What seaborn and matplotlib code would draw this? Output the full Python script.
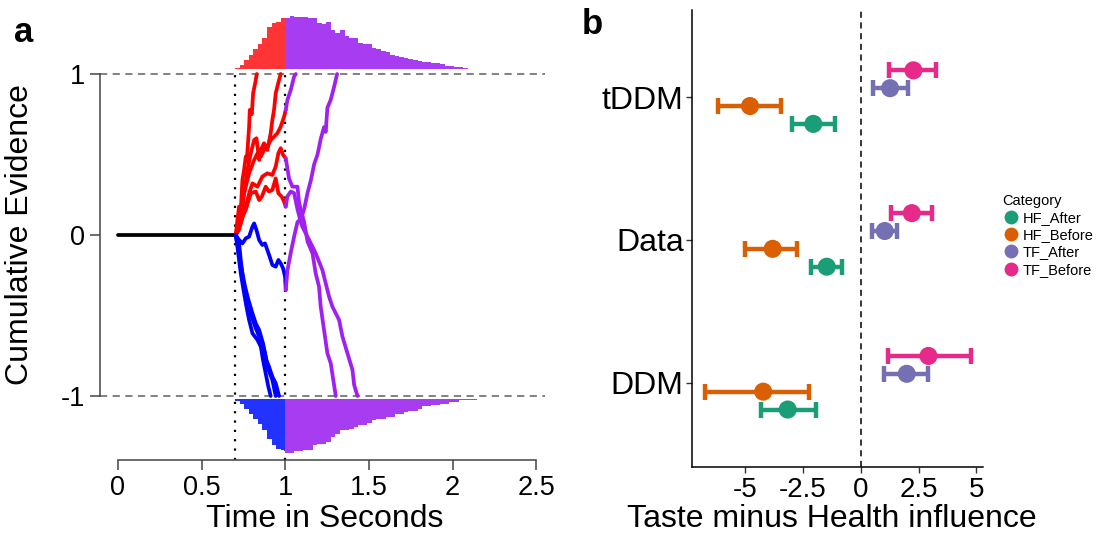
import numpy as np
import pandas as pd
import matplotlib
matplotlib.use("Agg")
import matplotlib.pyplot as plt
from matplotlib.lines import Line2D
import seaborn as sns

sns.set_theme(style="white")
plt.rcParams['font.family'] = ['Liberation Sans', 'DejaVu Sans']
plt.rcParams['text.color'] = 'black'
plt.rcParams['axes.labelcolor'] = 'black'
plt.rcParams['xtick.color'] = 'black'
plt.rcParams['ytick.color'] = 'black'

# ---------------- Panel a data ----------------
ndt = 0.7          # non-decision time
switch_t = 1.0     # attribute switch time

black_t = [0.0, 0.7]
black_y = [0.0, 0.0]

r1_t = [0.704, 0.714, 0.724, 0.734, 0.744, 0.754, 0.764, 0.770, 0.784, 0.788, 0.800, 0.808, 0.820, 0.830]
r1_y = [0.0, 0.093, 0.176, 0.15, 0.342, 0.404, 0.487, 0.46, 0.673, 0.777, 0.75, 0.88, 0.942, 1.0]
r2_t = [0.704, 0.724, 0.744, 0.754, 0.774, 0.794, 0.814, 0.828, 0.844, 0.854, 0.873, 0.893, 0.913, 0.923, 0.933, 0.943, 0.953, 0.963, 0.973]
r2_y = [0.0, 0.052, 0.156, 0.259, 0.404, 0.508, 0.59, 0.601, 0.466, 0.528, 0.57, 0.528, 0.632, 0.715, 0.777, 0.88, 0.922, 0.963, 1.0]
r3_t = [0.704, 0.724, 0.744, 0.764, 0.784, 0.814, 0.834, 0.854, 0.873, 0.893, 0.913, 0.933, 0.953, 0.973, 0.993, 1.003]
r3_y = [0.0, 0.093, 0.217, 0.3, 0.383, 0.466, 0.508, 0.487, 0.528, 0.549, 0.59, 0.611, 0.632, 0.673, 0.735, 0.777]
r4_t = [0.704, 0.734, 0.764, 0.784, 0.804, 0.834, 0.863, 0.893, 0.923, 0.943, 0.959, 0.973, 0.987, 1.003]
r4_y = [0.0, 0.073, 0.176, 0.259, 0.321, 0.30, 0.363, 0.383, 0.373, 0.425, 0.508, 0.539, 0.497, 0.476]
r5_t = [0.704, 0.724, 0.744, 0.764, 0.794, 0.824, 0.844, 0.860, 0.883, 0.903, 0.923, 0.943, 0.959, 0.979, 0.993, 1.003]
r5_y = [0.0, 0.031, 0.114, 0.156, 0.259, 0.27, 0.217, 0.238, 0.3, 0.27, 0.28, 0.352, 0.259, 0.238, 0.207, 0.176]

b1_t = [0.704, 0.724, 0.744, 0.764, 0.784, 0.804, 0.814, 0.828, 0.844, 0.863, 0.879, 0.893, 0.907, 0.923, 0.943, 0.959, 0.973, 0.987, 0.999, 1.003]
b1_y = [0.0, -0.031, -0.052, -0.021, -0.01, 0.052, 0.072, 0.031, -0.031, -0.062, -0.052, -0.093, -0.135, -0.186, -0.197, -0.155, -0.176, -0.207, -0.259, -0.342]
b2_t = [0.704, 0.714, 0.724, 0.734, 0.754, 0.768, 0.784, 0.804, 0.834, 0.854, 0.867, 0.883, 0.899, 0.913]
b2_y = [0.0, -0.072, -0.155, -0.238, -0.362, -0.445, -0.528, -0.611, -0.652, -0.694, -0.776, -0.859, -0.942, -1.0]
b3_t = [0.704, 0.724, 0.734, 0.748, 0.764, 0.784, 0.800, 0.820, 0.844, 0.863, 0.879, 0.893, 0.923, 0.943]
b3_y = [0.0, -0.052, -0.155, -0.279, -0.383, -0.445, -0.507, -0.569, -0.631, -0.673, -0.735, -0.818, -0.90, -1.0]
b4_t = [0.704, 0.720, 0.740, 0.760, 0.780, 0.804, 0.824, 0.844, 0.867, 0.887, 0.903, 0.923, 0.943, 0.963]
b4_y = [0.0, -0.093, -0.217, -0.321, -0.404, -0.487, -0.549, -0.59, -0.673, -0.776, -0.818, -0.88, -0.921, -1.0]

p3_t = [1.003, 1.013, 1.033, 1.053, 1.063]
p3_y = [0.777, 0.839, 0.901, 0.984, 1.0]
p4_t = [1.003, 1.023, 1.043, 1.073, 1.083, 1.113, 1.133, 1.163, 1.182, 1.202, 1.212, 1.232, 1.252, 1.272, 1.302]
p4_y = [0.476, 0.35, 0.30, 0.30, 0.2, 0.08, -0.04, -0.114, -0.238, -0.321, -0.445, -0.59, -0.735, -0.797, -1.0]
p5_t = [1.003, 1.013, 1.033, 1.053, 1.073, 1.093, 1.103, 1.143, 1.182, 1.222, 1.242, 1.262, 1.282, 1.322, 1.342, 1.372, 1.402, 1.412, 1.432]
p5_y = [0.176, 0.24, 0.27, 0.26, 0.16, 0.08, 0.05, -0.031, -0.114, -0.217, -0.30, -0.383, -0.445, -0.528, -0.631, -0.735, -0.838, -0.931, -1.0]
pb1_t = [1.003, 1.013, 1.033, 1.053, 1.073, 1.093, 1.113, 1.133, 1.153, 1.173, 1.193, 1.213, 1.232, 1.242, 1.252, 1.272, 1.292, 1.31]
pb1_y = [-0.342, -0.22, -0.11, -0.01, 0.08, 0.10, 0.16, 0.26, 0.34, 0.44, 0.50, 0.60, 0.67, 0.64, 0.79, 0.84, 0.92, 1.0]

# histogram counts (relative), bins of width 0.3/11 starting at 0.703
top_red = [5, 13, 28, 43, 60, 75, 95, 128, 138, 143, 153]
top_purple = [153, 161, 158, 156, 156, 155, 153, 140, 136, 143, 118, 110, 118, 100, 93, 93, 80, 76, 75, 63,
              60, 55, 53, 43, 40, 36, 33, 30, 28, 25, 23, 21, 20, 18, 16, 10, 10, 8, 6, 4]
bot_blue = [5, 13, 28, 43, 58, 73, 93, 118, 138, 148, 153]
bot_purple = [161, 161, 155, 155, 151, 153, 138, 133, 133, 128, 113, 103, 93, 93, 88, 83, 76, 76, 71, 63,
              58, 58, 53, 53, 43, 43, 38, 35, 35, 28, 20, 20, 18, 18, 13, 13, 8, 8, 3, 3, 3, 3]

# ---------------- Panel b data ----------------
models = ['DDM', 'Data', 'tDDM']
categories = ['HF_After', 'HF_Before', 'TF_After', 'TF_Before']
ddm_mean = [-3.16, -4.22, 1.99, 2.93]
ddm_lo = [-4.33, -6.74, 1.02, 1.17]
ddm_hi = [-1.93, -2.22, 2.93, 4.78]
data_mean = [-1.47, -3.81, 1.04, 2.21]
data_lo = [-2.15, -5.01, 0.50, 1.31]
data_hi = [-0.80, -2.74, 1.57, 3.10]
tddm_mean = [-2.05, -4.79, 1.27, 2.28]
tddm_lo = [-2.97, -6.19, 0.55, 1.24]
tddm_hi = [-1.11, -3.46, 2.03, 3.26]

palette = {'HF_After': '#1B9E77', 'HF_Before': '#D95F02', 'TF_After': '#7570B3', 'TF_Before': '#E7298A'}

# ---------------- figure ----------------
W, H = 1098, 533
fig = plt.figure(figsize=(W / 100, H / 100), dpi=100)
fig.patch.set_facecolor('white')

def px_axes(l, t, r, b):
    return fig.add_axes([l / W, (H - b) / H, (r - l) / W, (b - t) / H])

# ---- Panel a ----
ax = px_axes(100, 10, 545, 460)
ax.set_facecolor('white')
ax.set_xlim(-0.1075, 2.553)
ax.set_ylim(-1.3975, 1.3975)

rows = []
def add(name, col, ts, ys):
    for tt, yy in zip(ts, ys):
        rows.append((name, col, tt, yy))
add('k', 'black', black_t, black_y)
add('r1', 'red', r1_t, r1_y)
add('r2', 'red', r2_t, r2_y)
add('r3', 'red', r3_t, r3_y)
add('r4', 'red', r4_t, r4_y)
add('r5', 'red', r5_t, r5_y)
add('b1', 'blue', b1_t, b1_y)
add('b2', 'blue', b2_t, b2_y)
add('b3', 'blue', b3_t, b3_y)
add('b4', 'blue', b4_t, b4_y)
add('p3', 'purple', p3_t, p3_y)
add('p4', 'purple', p4_t, p4_y)
add('p5', 'purple', p5_t, p5_y)
add('pb1', 'purple', pb1_t, pb1_y)
traj = pd.DataFrame(rows, columns=['traj', 'col', 't', 'y'])

ax.axhline(1, color='#777777', lw=1.3, ls=(0, (4, 3)), zorder=1)
ax.axhline(-1, color='#777777', lw=1.3, ls=(0, (4, 3)), zorder=1)
for xv in (ndt, switch_t):
    ax.plot([xv, xv], [-1.4, 1.0], color='black', lw=1.6, ls=(0, (1, 3.2)), zorder=1)

sns.lineplot(data=traj, x='t', y='y', hue='col', units='traj', estimator=None, sort=False,
             palette={'black': 'black', 'red': '#FF0000', 'blue': '#0000FF', 'purple': '#A020F0'},
             lw=2.7, legend=False, ax=ax, zorder=3)

bw = 0.3 / 11
hscale = 0.00207
top_base, bot_base = 1.028, -1.02
e_red = ndt + bw * np.arange(len(top_red) + 1)
e_ptop = switch_t + bw * np.arange(len(top_purple) + 1)
e_pbot = switch_t + bw * np.arange(len(bot_purple) + 1)
ax.stairs(top_base + hscale * np.array(top_red), e_red, baseline=top_base, fill=True,
          color='#FF2A2A', alpha=0.95, lw=0, zorder=4)
ax.stairs(top_base + hscale * np.array(top_purple), e_ptop, baseline=top_base, fill=True,
          color='#A83CF0', lw=0, zorder=4)
ax.stairs(bot_base - hscale * np.array(bot_blue), e_red, baseline=bot_base, fill=True,
          color='#2233FF', lw=0, zorder=4)
ax.stairs(bot_base - hscale * np.array(bot_purple), e_pbot, baseline=bot_base, fill=True,
          color='#A83CF0', lw=0, zorder=4)

for s in ('top', 'right'):
    ax.spines[s].set_visible(False)
for s in ('left', 'bottom'):
    ax.spines[s].set_color('#444444')
    ax.spines[s].set_linewidth(1.1)
ax.spines['left'].set_bounds(-1, 1)
ax.spines['bottom'].set_bounds(0, 2.5)
ax.set_xticks([0, 0.5, 1, 1.5, 2, 2.5])
ax.set_xticklabels(['0', '0.5', '1', '1.5', '2', '2.5'])
ax.set_yticks([-1, 0, 1])
ax.set_yticklabels(['-1', '0', '1'])
ax.tick_params(axis='both', which='both', direction='out', length=7.5, width=1.1, color='#444444',
               labelsize=19.5, pad=3, labelcolor='black', bottom=True, left=True)
ax.set_xlabel('Time in Seconds', fontsize=23, color='black')
ax.set_ylabel('Cumulative Evidence', fontsize=23, color='black')
ax.xaxis.set_label_coords(0.506, -0.098)
ax.yaxis.set_label_coords(-0.146, 0.5)
ax.grid(False)

# ---- Panel b ----
bx = px_axes(692, 10, 983, 467)
bx.set_facecolor('white')
offsets = {'HF_After': -0.1875, 'HF_Before': -0.0625, 'TF_After': 0.0625, 'TF_Before': 0.1875}
brows = []
for mi, (m, mean, lo, hi) in enumerate([('DDM', ddm_mean, ddm_lo, ddm_hi),
                                       ('Data', data_mean, data_lo, data_hi),
                                       ('tDDM', tddm_mean, tddm_lo, tddm_hi)]):
    for ci, c in enumerate(categories):
        brows.append((m, c, mi + offsets[c], mean[ci], lo[ci], hi[ci]))
dfb = pd.DataFrame(brows, columns=['model', 'Category', 'ypos', 'value', 'lo', 'hi'])

bx.axvline(0, color='black', lw=1.1, ls=(0, (4, 3)), zorder=1)
for c in categories:
    d = dfb[dfb['Category'] == c]
    bx.errorbar(d['value'], d['ypos'], xerr=[d['value'] - d['lo'], d['hi'] - d['value']],
                fmt='none', ecolor=palette[c], elinewidth=3.2, capsize=5.5, capthick=3.2, zorder=2)
sns.scatterplot(data=dfb, x='value', y='ypos', hue='Category', palette=palette, s=170,
                edgecolor='none', legend=False, ax=bx, zorder=3)

bx.set_xlim(-7.30, 5.29)
bx.set_ylim(-0.59, 2.61)
bx.set_yticks([0, 1, 2])
bx.set_yticklabels(models)
bx.set_xticks([-5, -2.5, 0, 2.5, 5])
bx.set_xticklabels(['-5', '-2.5', '0', '2.5', '5'])
for s in ('top', 'right'):
    bx.spines[s].set_visible(False)
for s in ('left', 'bottom'):
    bx.spines[s].set_color('black')
    bx.spines[s].set_linewidth(1.1)
bx.tick_params(axis='y', direction='out', length=4, width=1, color='#333333', labelsize=23, pad=2,
               labelcolor='black', left=True)
bx.tick_params(axis='x', direction='out', length=4, width=1, color='#333333', labelsize=20, pad=3,
               labelcolor='black', bottom=True)
bx.set_xlabel('Taste minus Health influence', fontsize=23, color='black')
bx.set_ylabel('')
bx.xaxis.set_label_coords(0.481, -0.080)
bx.grid(False)

handles = [Line2D([0], [0], marker='o', ls='none', markersize=10, markerfacecolor=palette[c],
                  markeredgecolor='none') for c in categories]
leg = fig.legend(handles, categories, title='Category', loc='upper left',
                 bbox_to_anchor=(996 / W, 1 - 188 / H), frameon=False, fontsize=10.5,
                 title_fontsize=10.5, handletextpad=0.2, labelspacing=0.22, handlelength=1.2,
                 borderaxespad=0)
leg._legend_box.align = 'left'
for t in leg.get_texts():
    t.set_color('black')
leg.get_title().set_color('black')

fig.text(14 / W, 1 - 42 / H, 'a', fontsize=25, fontweight='bold', ha='left', va='baseline', color='black')
fig.text(582 / W, 1 - 34 / H, 'b', fontsize=25, fontweight='bold', ha='left', va='baseline', color='black')

fig.savefig('out.png', dpi=100, facecolor='white')
